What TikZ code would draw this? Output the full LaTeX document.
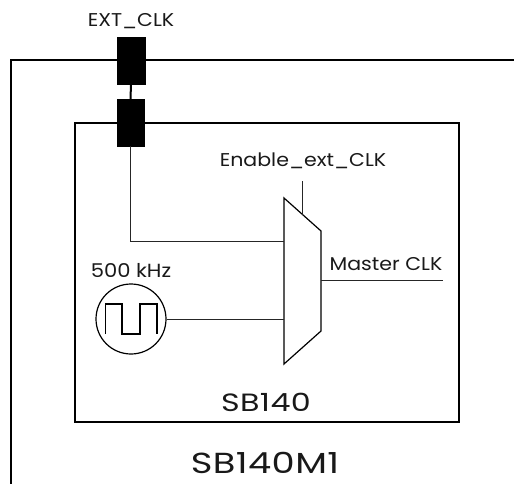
\documentclass[tikz,border=0pt]{standalone}
\usepackage{fontspec}
\setmainfont{Poppins}
\newfontfamily\smallf[FakeStretch=1.11]{Poppins}
\newfontfamily\bigf[FakeStretch=1.27,LetterSpace=1.5]{Poppins}
\tikzset{
 pad/.style={draw=black,fill=black,minimum width=27.5pt,minimum height=47pt,inner sep=0pt,outer sep=0pt},
 wire/.style={draw=black!85,line width=1pt},
 frame/.style={draw=black,line width=2pt},
 lbl/.style={inner sep=0pt,text=black!90},
}
\begin{document}
\begin{tikzpicture}[x=1pt,y=-1pt]
\useasboundingbox (0,0) rectangle (514,484);
\draw[frame] (514,60.5) -- (10.5,60.5) -- (10.5,484);
\draw[frame] (75,123.5) rectangle (459,422);
\node[pad] (p1) at (131,60.5) {};
\node[pad] (p2) at (130.5,122.5) {};
\draw[black,line width=2pt] (p1) -- (p2);
\coordinate (muxa) at (284,198);
\coordinate (muxb) at (321,231);
\coordinate (muxc) at (321,331);
\coordinate (muxd) at (284,364);
\draw[black,line width=1.2pt,line join=miter] (muxa) -- (muxb) -- (muxc) -- (muxd) -- cycle;
\coordinate (in1) at (284,241.5);
\coordinate (in2) at (284,319);
\coordinate (en) at (302,214.5);
\coordinate (ent) at (302,181);
\coordinate (outp) at (321,280.5);
\coordinate (oute) at (443,280.5);
\draw[wire] (p2.south) -- (p2.south |- in1) -- (in1);
\draw[wire] (en) -- (ent);
\draw[wire] (outp) -- (oute);
\node[circle,draw=black,line width=1.2pt,minimum size=70pt,inner sep=0pt] (osc) at (131,319) {};
\draw[wire] (osc) -- (in2);
\draw[black,line width=1.2pt] (105.5,334) -- (105.5,304) -- (122,304) -- (122,334) -- (140,334) -- (140,304) -- (157,304) -- (157,334);
\node[lbl,font=\smallf\fontsize{18.5}{22}\selectfont] (t1) at (131,21) {EXT\_CLK};
\node[lbl,font=\smallf\fontsize{18.5}{22}\selectfont] (t2) at (303,161) {Enable\_ext\_CLK};
\node[lbl,font=\smallf\fontsize{18.5}{22}\selectfont] (t3) at (386,264) {Master CLK};
\node[lbl,font=\smallf\fontsize{19}{22}\selectfont] (t4) at (131,270) {500 kHz};
\node[lbl,font=\bigf\fontsize{25}{30}\selectfont] (t5) at (266,402) {SB140};
\node[lbl,font=\bigf\fontsize{29}{34}\selectfont] (t6) at (265,463) {SB140M1};
\end{tikzpicture}
\end{document}
